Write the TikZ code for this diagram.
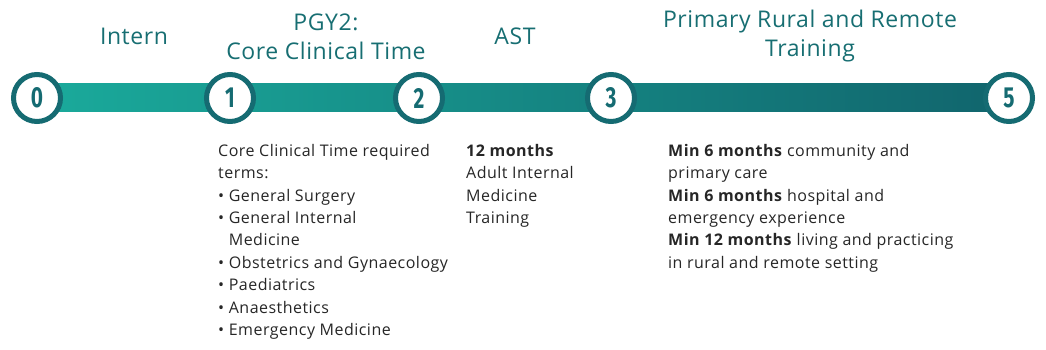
\documentclass[tikz,border=0pt]{standalone}
\usepackage{fontspec}
\setmainfont{Open Sans}
\newfontfamily\numfont{Fira Sans}
\usetikzlibrary{positioning}
\definecolor{tealL}{HTML}{1AAA9B}
\definecolor{tealR}{HTML}{11656D}
\definecolor{ring}{HTML}{156B72}
\definecolor{titlec}{HTML}{176E72}
\definecolor{bodyc}{HTML}{262626}
\tikzset{
  stage/.style={circle, draw=ring, line width=5pt, fill=white, minimum size=47pt, inner sep=0pt,
     font=\numfont\fontsize{29}{29}\selectfont\bfseries, text=ring},
  title/.style={text=titlec, font=\fontsize{23}{28.5}\selectfont\addfontfeature{LetterSpace=2.5}, align=center},
  body/.style={text=bodyc, font=\fontsize{16}{22.4}\selectfont\addfontfeature{LetterSpace=3}, align=left, anchor=north west, inner sep=0pt}
}
\newcommand{\cnum}[1]{\scalebox{0.72}[1]{#1}}
\begin{document}
\begin{tikzpicture}[x=1pt,y=-1pt]
\useasboundingbox (0,0) rectangle (1046,350);
\coordinate (barL) at (40,84);
\coordinate (barR) at (1005,112);
\shade[left color=tealL, right color=tealR] (barL) rectangle (barR);
\node[stage] (c0) at (37,98) {\cnum{0}};
\node[stage] (c1) at (230,98) {\cnum{1}};
\node[stage] (c2) at (419,98) {\cnum{2}};
\node[stage] (c3) at (611,98) {\cnum{3}};
\node[stage] (c5) at (1009,98) {\cnum{5}};

\node[title] (t0) at (134,36) {Intern};
\node[title] (t1) at (326,37) {PGY2:\\Core Clinical Time};
\node[title] (t2) at (515,36) {AST};
\node[title] (t3) at (810,36) {Primary Rural and Remote\\Training};

\node[body] (b1) at (218,144) {Core Clinical Time required\\terms:\\
• General Surgery\\
• General Internal\\
\phantom{• }Medicine\\
• Obstetrics and Gynaecology\\
• Paediatrics\\
• Anaesthetics\\
• Emergency Medicine};
\node[body] (b2) at (466,144) {\textbf{12 months}\\Adult Internal\\Medicine\\Training};
\node[body] (b3) at (668,144) {\textbf{Min 6 months} community and\\primary care\\
\textbf{Min 6 months} hospital and\\emergency experience\\
\textbf{Min 12 months} living and practicing\\in rural and remote setting};
\end{tikzpicture}
\end{document}
